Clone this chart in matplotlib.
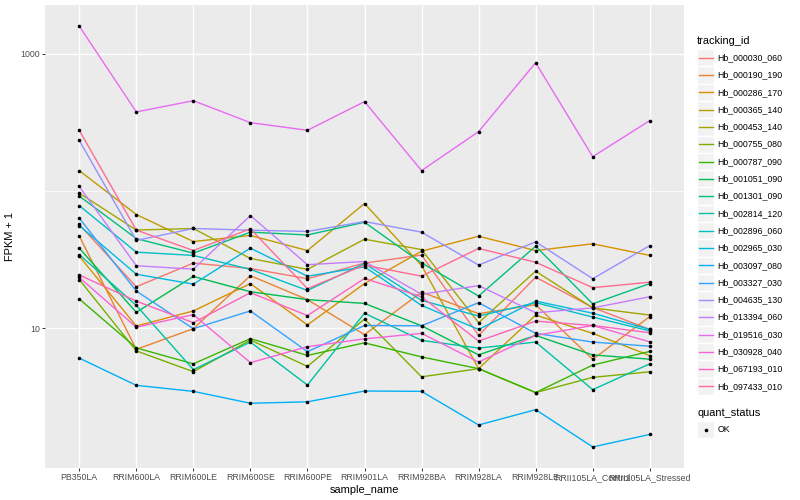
import matplotlib
matplotlib.use("Agg")
import matplotlib.pyplot as plt
from matplotlib.ticker import FixedLocator, NullFormatter
import numpy as np

plt.rcParams['font.family'] = ['Liberation Sans', 'DejaVu Sans']

samples = ["PB350LA", "RRIM600LA", "RRIM600LE", "RRIM600SE", "RRIM600PE",
           "RRIM901LA", "RRIM928BA", "RRIM928LA", "RRIM928LE",
           "RRII105LA_Control", "RRII105LA_Stressed"]

tracking_ids = ["Hb_000030_060", "Hb_000190_190", "Hb_000286_170", "Hb_000365_140",
                "Hb_000453_140", "Hb_000755_080", "Hb_000787_090", "Hb_001051_090",
                "Hb_001301_090", "Hb_002814_120", "Hb_002896_060", "Hb_002965_030",
                "Hb_003097_080", "Hb_003327_030", "Hb_004635_130", "Hb_013394_060",
                "Hb_019516_030", "Hb_030928_040", "Hb_067193_010", "Hb_097433_010"]

hb_000030_060 = [57.1, 20.1, 29.9, 27.3, 23.0, 29.9, 34.2, 8.89, 23.6, 14.2, 9.83]
hb_000190_190 = [47.1, 7.04, 9.95, 24.2, 16.2, 9.00, 18.4, 12.8, 14.9, 5.95, 12.2]
hb_000286_170 = [33.6, 10.4, 13.4, 21.2, 10.6, 21.2, 36.5, 46.9, 36.9, 41.3, 34.0]
hb_000365_140 = [141, 67.5, 42.9, 47.5, 36.9, 81.1, 28.7, 5.09, 12.5, 9.20, 6.34]
hb_000453_140 = [96.7, 52.0, 53.4, 32.3, 26.9, 44.6, 37.5, 11.0, 26.1, 14.1, 12.5]
hb_000755_080 = [22.7, 6.86, 4.84, 8.22, 5.29, 11.7, 4.44, 5.09, 3.41, 4.40, 4.83]
hb_000787_090 = [16.4, 7.21, 5.52, 8.42, 6.36, 7.85, 6.20, 5.09, 3.41, 5.41, 6.80]
hb_001051_090 = [38.4, 13.1, 23.9, 18.5, 16.2, 15.2, 10.45, 6.42, 8.89, 6.41, 5.97]
hb_001301_090 = [92.0, 45.1, 35.3, 50.2, 47.9, 59.3, 30.0, 17.2, 39.7, 15.1, 21.2]
hb_002814_120 = [34.5, 14.7, 5.01, 7.95, 3.87, 12.9, 8.18, 7.19, 7.95, 3.58, 5.52]
hb_002896_060 = [78.4, 35.9, 34.0, 26.9, 18.9, 29.7, 16.0, 12.3, 15.4, 12.1, 9.59]
hb_002965_030 = [56.1, 24.8, 21.0, 38.4, 24.0, 28.1, 14.7, 9.83, 15.8, 12.9, 9.83]
hb_003097_080 = [6.08, 3.85, 3.48, 2.85, 2.92, 3.50, 3.48, 1.98, 2.56, 1.37, 1.69]
hb_003327_030 = [63.6, 18.7, 9.95, 13.4, 6.77, 10.5, 10.45, 15.4, 9.20, 7.95, 7.42]
hb_004635_130 = [234, 43.7, 53.4, 51.9, 50.8, 60.0, 50.2, 28.9, 42.7, 23.0, 40.1]
hb_013394_060 = [108, 28.6, 27.0, 66.3, 29.1, 30.7, 17.7, 20.5, 13.0, 14.1, 17.0]
hb_019516_030 = [1591, 377, 455, 315, 277, 448, 141, 271, 860, 178, 326]
hb_030928_040 = [23.5, 10.2, 12.6, 5.63, 7.36, 8.39, 9.20, 5.69, 8.89, 10.5, 7.98]
hb_067193_010 = [24.5, 15.8, 11.0, 18.2, 12.4, 23.1, 17.0, 8.08, 11.3, 10.5, 9.30]
hb_097433_010 = [277, 52.0, 36.9, 53.1, 19.5, 28.9, 24.0, 38.2, 30.3, 19.8, 21.7]

series = [hb_000030_060, hb_000190_190, hb_000286_170, hb_000365_140, hb_000453_140,
          hb_000755_080, hb_000787_090, hb_001051_090, hb_001301_090, hb_002814_120,
          hb_002896_060, hb_002965_030, hb_003097_080, hb_003327_030, hb_004635_130,
          hb_013394_060, hb_019516_030, hb_030928_040, hb_067193_010, hb_097433_010]

colors = ["#F8766D", "#EA8331", "#D89000", "#C09B00", "#A3A500", "#7CAE00", "#39B600",
          "#00BB4E", "#00BF7D", "#00C1A3", "#00BFC4", "#00BAE0", "#00B0F6", "#35A2FF",
          "#9590FF", "#C77CFF", "#E76BF3", "#FA62DB", "#FF62BC", "#FF6C91"]

y_ticks = [10, 1000]
y_minor = [100]

W, H = 800, 500
fig = plt.figure(figsize=(8, 5), dpi=100)
L, R, T, B = 45, 684, 5, 468
ax = fig.add_axes([L / W, 1 - B / H, (R - L) / W, (B - T) / H])
ax.set_facecolor("#EBEBEB")
for s in ax.spines.values():
    s.set_visible(False)

x = np.arange(len(samples))
for vals, c in zip(series, colors):
    ax.plot(x, vals, color=c, lw=1.0, zorder=3, solid_capstyle='butt')
for vals in series:
    ax.plot(x, vals, linestyle='none', marker='o', markersize=2.6,
            color='black', markeredgewidth=0, zorder=4)

ax.set_yscale('log')
allv = np.concatenate([np.array(v, dtype=float) for v in series])
lo, hi = np.log10(allv.min()), np.log10(allv.max())
pad = 0.05 * (hi - lo)
ax.set_ylim(10 ** (lo - pad), 10 ** (hi + pad))
ax.set_xlim(-0.6, len(samples) - 1 + 0.6)

ax.yaxis.set_major_locator(FixedLocator(y_ticks))
ax.set_yticklabels([str(t) for t in y_ticks])
ax.yaxis.set_minor_locator(FixedLocator(y_minor))
ax.yaxis.set_minor_formatter(NullFormatter())
ax.set_xticks(x)
ax.set_xticklabels(samples)

ax.grid(True, which='major', color='white', lw=1.0, zorder=0)
ax.grid(True, which='minor', axis='y', color='white', lw=0.5, zorder=0)
ax.set_axisbelow(True)
ax.tick_params(axis='both', which='major', length=2.0, width=0.7, color='#333333',
               labelsize=6.3, labelcolor='#4D4D4D', pad=1.5)
ax.tick_params(axis='y', which='minor', length=0)

ax.set_xlabel("sample_name", fontsize=7.9, color='black', labelpad=2)
ax.set_ylabel("FPKM + 1", fontsize=7.9, color='black', labelpad=4)

# legend drawn in pixel coordinates
lax = fig.add_axes([0, 0, 1, 1])
lax.set_xlim(0, W)
lax.set_ylim(H, 0)
lax.axis('off')
lax.patch.set_visible(False)

lx0 = 697
kw = 17.3
lax.text(lx0, 40.7, "tracking_id", fontsize=7.9, va='center', ha='left', color='black')
for i, (name, c) in enumerate(zip(tracking_ids, colors)):
    yc = 57.7 + i * kw
    lax.add_patch(plt.Rectangle((lx0, yc - kw / 2), kw, kw, facecolor='#F2F2F2',
                                edgecolor='white', lw=1.0))
    lax.plot([lx0 + 1.7, lx0 + kw - 1.7], [yc, yc], color=c, lw=1.0)
    lax.text(lx0 + kw + 3, yc, name, fontsize=6.3, va='center', ha='left', color='black')

lax.text(lx0, 412.7, "quant_status", fontsize=7.9, va='center', ha='left', color='black')
yc = 429.5
lax.add_patch(plt.Rectangle((lx0, yc - kw / 2), kw, kw, facecolor='#F2F2F2',
                            edgecolor='white', lw=1.0))
lax.plot([lx0 + kw / 2], [yc], marker='o', markersize=2.6, color='black', markeredgewidth=0)
lax.text(lx0 + kw + 3, yc, "OK", fontsize=6.3, va='center', ha='left', color='black')

fig.savefig("out.png", dpi=100, facecolor='white')
